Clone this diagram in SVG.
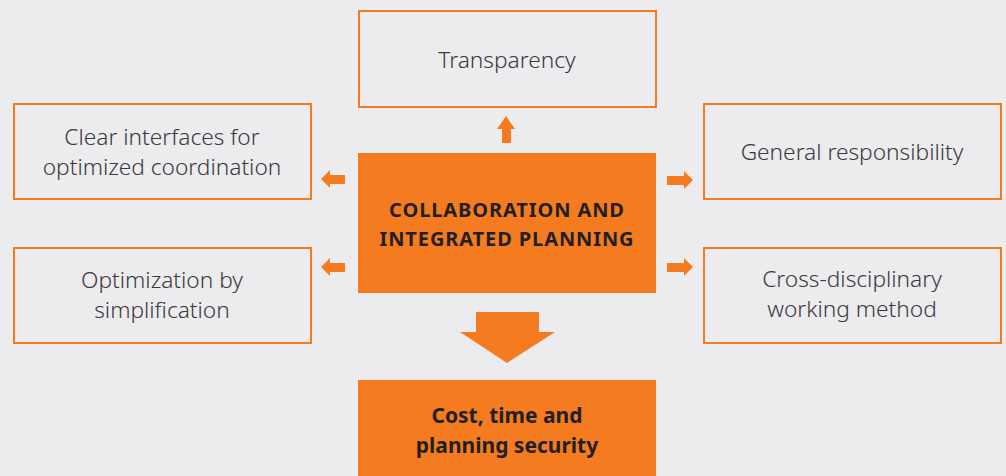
<svg xmlns="http://www.w3.org/2000/svg" width="1006" height="476" viewBox="0 0 1006 476">
  <style>
    .box { fill: #ecebee; stroke: #f47b20; stroke-width: 2; }
    .core { fill: #f47b20; }
    .arrow { fill: #f47b20; }
    .lbl { font-family: "Noto Sans", "Liberation Sans", sans-serif; font-size: 22.7px; font-weight: 300; fill: #3a3a3c; text-anchor: middle; }
    .head { font-family: "Noto Sans", "Liberation Sans", sans-serif; font-size: 20px; font-weight: 700; fill: #231f20; text-anchor: middle; letter-spacing: 0.9px; }
    .head2 { font-family: "Noto Sans", "Liberation Sans", sans-serif; font-size: 21px; font-weight: 700; fill: #231f20; text-anchor: middle; }
  </style>
  <rect width="1006" height="476" fill="#ecebee"/>

  <!-- connectors -->
  <g id="connectors">
    <!-- up to Transparency -->
    <polygon class="arrow" points="506,116 515,129 511,129 511,143 502,143 502,129 497,129"/>
    <!-- left arrows -->
    <polygon class="arrow" points="321,179 330,170 330,175 345,175 345,184 330,184 330,188"/>
    <polygon class="arrow" points="321,267 330,258 330,263 345,263 345,272 330,272 330,276"/>
    <!-- right arrows -->
    <polygon class="arrow" points="693,180 684,171 684,176 667,176 667,185 684,185 684,189"/>
    <polygon class="arrow" points="693,267 684,258 684,263 667,263 667,272 684,272 684,276"/>
    <!-- down to result -->
    <polygon class="arrow" points="476,312 539,312 539,332 555,332 507,363 460,332 476,332"/>
  </g>

  <g id="transparency">
    <rect class="box" x="359" y="11" width="297" height="96"/>
    <text class="lbl" x="507" y="68">Transparency</text>
  </g>

  <g id="clear-interfaces">
    <rect class="box" x="14" y="104" width="297" height="95"/>
    <text class="lbl" x="162" y="145">Clear interfaces for</text>
    <text class="lbl" x="162" y="175">optimized coordination</text>
  </g>

  <g id="general-responsibility">
    <rect class="box" x="704" y="104" width="297" height="95"/>
    <text class="lbl" x="852" y="160">General responsibility</text>
  </g>

  <g id="optimization">
    <rect class="box" x="14" y="248" width="297" height="95"/>
    <text class="lbl" x="162" y="288">Optimization by</text>
    <text class="lbl" x="162" y="318">simplification</text>
  </g>

  <g id="cross-disciplinary">
    <rect class="box" x="704" y="248" width="297" height="95"/>
    <text class="lbl" x="852" y="287">Cross-disciplinary</text>
    <text class="lbl" x="852" y="317">working method</text>
  </g>

  <g id="collaboration">
    <rect class="core" x="358" y="153" width="298" height="140"/>
    <text class="head" x="507" y="217">COLLABORATION AND</text>
    <text class="head" x="507" y="246">INTEGRATED PLANNING</text>
  </g>

  <g id="result">
    <rect class="core" x="358" y="380" width="298" height="96"/>
    <text class="head2" x="507" y="423">Cost, time and</text>
    <text class="head2" x="507" y="453">planning security</text>
  </g>
</svg>
